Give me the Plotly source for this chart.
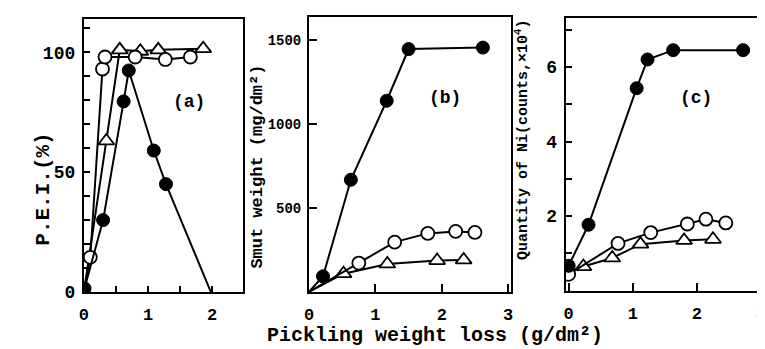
import plotly.graph_objects as go

W, H = 765, 349

# ---------------- data ----------------
# panel (a): P.E.I. (%) vs pickling weight loss
a_fill_x = [0.01, 0.30, 0.62, 0.70, 1.09, 1.28, 1.98]
a_fill_y = [1.5, 30, 79.5, 92.4, 59, 45, 0]
a_open_x = [0.0, 0.10, 0.29, 0.33, 0.80, 1.27, 1.66]
a_open_y = [0, 14.5, 93, 98, 98, 97, 98]
a_tri_x = [0.0, 0.35, 0.56, 0.88, 1.16, 1.86]
a_tri_y = [0, 63, 101, 100.4, 101, 101.5]

# panel (b): smut weight (mg/dm2)
b_fill_x = [0.0, 0.21, 0.63, 1.17, 1.50, 2.62]
b_fill_y = [0, 92, 668, 1139, 1447, 1456]
b_open_x = [0.0, 0.75, 1.29, 1.79, 2.21, 2.50]
b_open_y = [0, 171, 296, 348, 360, 354]
b_tri_x = [0.0, 0.52, 1.18, 1.93, 2.33]
b_tri_y = [0, 108, 166, 186, 190]

# panel (c): quantity of Ni (counts, x10^4)
c_fill_x = [0.0, 0.31, 1.06, 1.23, 1.63, 2.72]
c_fill_y = [0.67, 1.77, 5.43, 6.20, 6.45, 6.45]
c_open_x = [0.0, 0.77, 1.28, 1.85, 2.14, 2.45]
c_open_y = [0.44, 1.27, 1.56, 1.79, 1.92, 1.82]
c_tri_x = [0.0, 0.23, 0.68, 1.12, 1.80, 2.25]
c_tri_y = [0.5, 0.65, 0.88, 1.25, 1.35, 1.38]

FONT = "Liberation Mono"


def px_x(p):
    return p / W


def px_y(p):
    return (H - p) / H


fig = go.Figure()


def sizes(n, hidden, s):
    return [0 if i in hidden else s for i in range(n)]


def add_series(xs, ys, kind, xa, ya, hidden=()):
    n = len(xs)
    if kind == "fill":
        marker = dict(symbol="circle", size=sizes(n, hidden, 13), color="#000000", opacity=1,
                      line=dict(color="#000000", width=1))
    elif kind == "open":
        marker = dict(symbol="circle", size=sizes(n, hidden, 13), color="white", opacity=1,
                      line=dict(color="black", width=1.8))
    else:
        marker = dict(symbol="triangle-up", size=sizes(n, hidden, 14), color="white", opacity=1,
                      line=dict(color="black", width=1.8))
    fig.add_trace(go.Scatter(x=xs, y=ys, mode="lines+markers", xaxis=xa, yaxis=ya,
                             line=dict(color="black", width=2), marker=marker,
                             showlegend=False, hoverinfo="skip"))


# (a)
add_series(a_tri_x, a_tri_y, "tri", "x", "y", hidden=(0,))
add_series(a_open_x, a_open_y, "open", "x", "y", hidden=(0,))
add_series(a_fill_x, a_fill_y, "fill", "x", "y", hidden=(len(a_fill_x) - 1,))
# (b)
add_series(b_tri_x, b_tri_y, "tri", "x2", "y2", hidden=(0,))
add_series(b_open_x, b_open_y, "open", "x2", "y2", hidden=(0,))
add_series(b_fill_x, b_fill_y, "fill", "x2", "y2", hidden=(0,))
# (c)
add_series(c_tri_x, c_tri_y, "tri", "x3", "y3", hidden=(0,))
add_series(c_open_x, c_open_y, "open", "x3", "y3")
add_series(c_fill_x, c_fill_y, "fill", "x3", "y3")

axis_common = dict(showline=True, linecolor="black", linewidth=2, mirror=True,
                   showgrid=False, zeroline=False, ticks="inside", tickcolor="black",
                   tickwidth=1.5, fixedrange=True)

xfont = dict(family=FONT, size=17, color="black", weight="bold")

fig.update_layout(
    width=W, height=H, margin=dict(l=0, r=0, t=0, b=0),
    paper_bgcolor="white", plot_bgcolor="white",
    xaxis=dict(domain=[px_x(71.8), px_x(233)], range=[0, 2.48], anchor="y",
               tickvals=[0, 1, 2], ticklen=6, tickfont=xfont, ticklabelstandoff=6,
               minor=dict(dtick=0.5, ticks="inside", ticklen=6, tickcolor="black", tickwidth=1.5),
               **axis_common),
    yaxis=dict(domain=[px_y(293.3), px_y(11)], range=[0, 114], anchor="x",
               tickvals=[0, 50, 100], ticklen=6, ticklabelstandoff=3,
               tickfont=dict(family=FONT, size=18, color="black", weight="bold"),
               minor=dict(dtick=10, ticks="inside", ticklen=6, tickcolor="black", tickwidth=1.5),
               **axis_common),
    xaxis2=dict(domain=[px_x(300), px_x(505)], range=[0, 3.05], anchor="y2",
                tickvals=[0, 1, 2, 3], ticklen=8, tickfont=xfont, ticklabelstandoff=6,
                **axis_common),
    yaxis2=dict(domain=[px_y(293), px_y(9)], range=[0, 1640], anchor="x2",
                tickvals=[500, 1000, 1500], ticklen=8, ticklabelstandoff=3,
                tickfont=dict(family=FONT, size=14, color="black", weight="bold"),
                **axis_common),
    xaxis3=dict(domain=[px_x(560), px_x(758)], range=[-0.046, 3.0], anchor="y3",
                tickvals=[0, 1, 2, 3], ticklen=8, tickfont=xfont, ticklabelstandoff=6,
                **axis_common),
    yaxis3=dict(domain=[px_y(292), px_y(10)], range=[0, 7.32], anchor="x3",
                tickvals=[2, 4, 6], ticklen=6, ticklabelstandoff=3,
                tickfont=dict(family=FONT, size=18, color="black", weight="bold"),
                minor=dict(dtick=1, ticks="inside", ticklen=6, tickcolor="black", tickwidth=1.5),
                **axis_common),
)

ann_font = dict(family=FONT, color="black", weight="bold")


def note(text, x, y, size, angle=0):
    fig.add_annotation(text=text, x=px_x(x), y=px_y(y), xref="paper", yref="paper",
                       showarrow=False, textangle=angle, xanchor="center", yanchor="middle",
                       font=dict(size=size, **ann_font))


note("P.E.I.(%)", 30, 187, 21, -90)
note("Smut weight (mg/dm²)", 248, 164, 17, -90)
note("Quantity of Ni(counts,×10<sup>4</sup>)", 515, 136, 15, -90)
note("Pickling weight loss (g/dm²)", 428, 338, 20)
note("(a)", 178, 97, 18)
note("(b)", 438, 93, 18)
note("(c)", 692, 93, 18)

fig.write_html("out.html")
